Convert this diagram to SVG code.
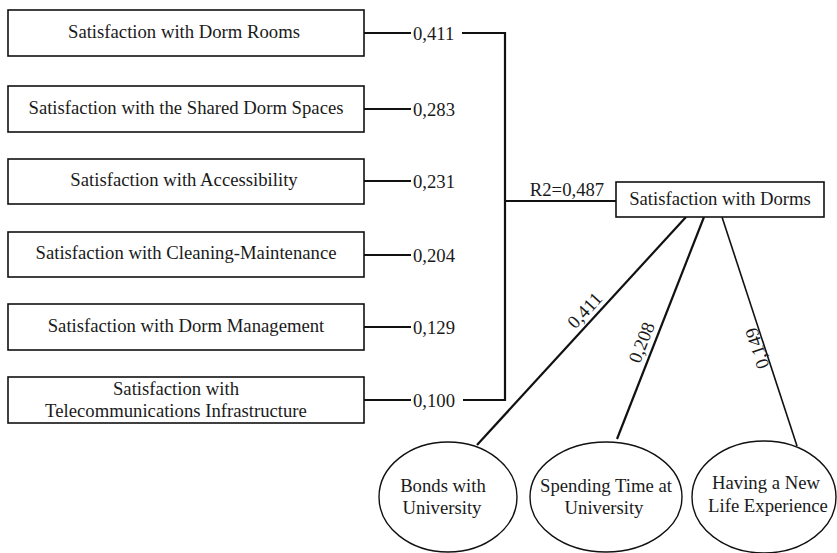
<svg xmlns="http://www.w3.org/2000/svg" width="837" height="553" viewBox="0 0 837 553" font-family="'Liberation Serif', 'Times New Roman', serif">
<style>
text{font-family:'Liberation Serif','Times New Roman',serif;font-size:18.7px;fill:#1a1a1a}
.box{fill:#fff;stroke:#111;stroke-width:1.6}
.ell{fill:#fff;stroke:#111;stroke-width:1.4}
.c{text-anchor:middle}
.ln{fill:none;stroke:#111;stroke-width:2.2}
.ln2{fill:none;stroke:#111;stroke-width:1.6}
</style>
<rect width="837" height="553" fill="#fff"/>
<g id="connectors">
<path class="ln" d="M364 33H411M462 33H505V400H463M364 400H411"/>
<path class="ln" d="M364 109H411M364 181H411M364 255H411M364 327H411"/>
<path class="ln" d="M505 201H616"/>
<path class="ln" d="M686 217L477 445"/>
<path class="ln" d="M704 217L617 439"/>
<path class="ln2" d="M722 217L797 446"/>
<text x="413" y="39.5">0,411</text>
<text x="413" y="115.5">0,283</text>
<text x="413" y="187.5">0,231</text>
<text x="413" y="261.5">0,204</text>
<text x="413" y="333.5">0,129</text>
<text x="413" y="406.5">0,100</text>
<text x="567" y="196" class="c">R2=0,487</text>
<text class="c" transform="translate(593,318) rotate(-47.5)" y="-5">0,411</text>
<text class="c" transform="translate(653,347) rotate(-68.5)" y="-6">0,208</text>
<text class="c" transform="translate(764,346) rotate(-108.2)" y="-1">0,149</text>
</g>
<g id="n1"><rect class="box" x="8" y="10" width="356" height="46"/><text class="c" x="184" y="37.5">Satisfaction with Dorm Rooms</text></g>
<g id="n2"><rect class="box" x="8" y="86" width="356" height="46"/><text class="c" x="186" y="113.5">Satisfaction with the Shared Dorm Spaces</text></g>
<g id="n3"><rect class="box" x="8" y="159" width="356" height="45"/><text class="c" x="184" y="186">Satisfaction with Accessibility</text></g>
<g id="n4"><rect class="box" x="8" y="232" width="356" height="45"/><text class="c" x="186" y="259">Satisfaction with Cleaning-Maintenance</text></g>
<g id="n5"><rect class="box" x="8" y="304" width="356" height="46"/><text class="c" x="186" y="331.5">Satisfaction with Dorm Management</text></g>
<g id="n6"><rect class="box" x="8" y="377" width="356" height="46"/><text class="c" x="176" y="395">Satisfaction with</text><text class="c" x="176" y="417">Telecommunications Infrastructure</text></g>
<g id="dorms"><rect class="box" x="616" y="182" width="208" height="35"/><text class="c" x="720" y="205">Satisfaction with Dorms</text></g>
<g id="e1"><ellipse class="ell" cx="448" cy="497" rx="69" ry="55"/><text class="c" x="443" y="492">Bonds with</text><text class="c" x="442" y="514">University</text></g>
<g id="e2"><ellipse class="ell" cx="606" cy="497" rx="76" ry="55"/><text class="c" x="606" y="492">Spending Time at</text><text class="c" x="604" y="514">University</text></g>
<g id="e3"><ellipse class="ell" cx="764" cy="497" rx="72" ry="56"/><text class="c" x="766" y="489">Having a New</text><text class="c" x="768" y="512">Life Experience</text></g>
</svg>
